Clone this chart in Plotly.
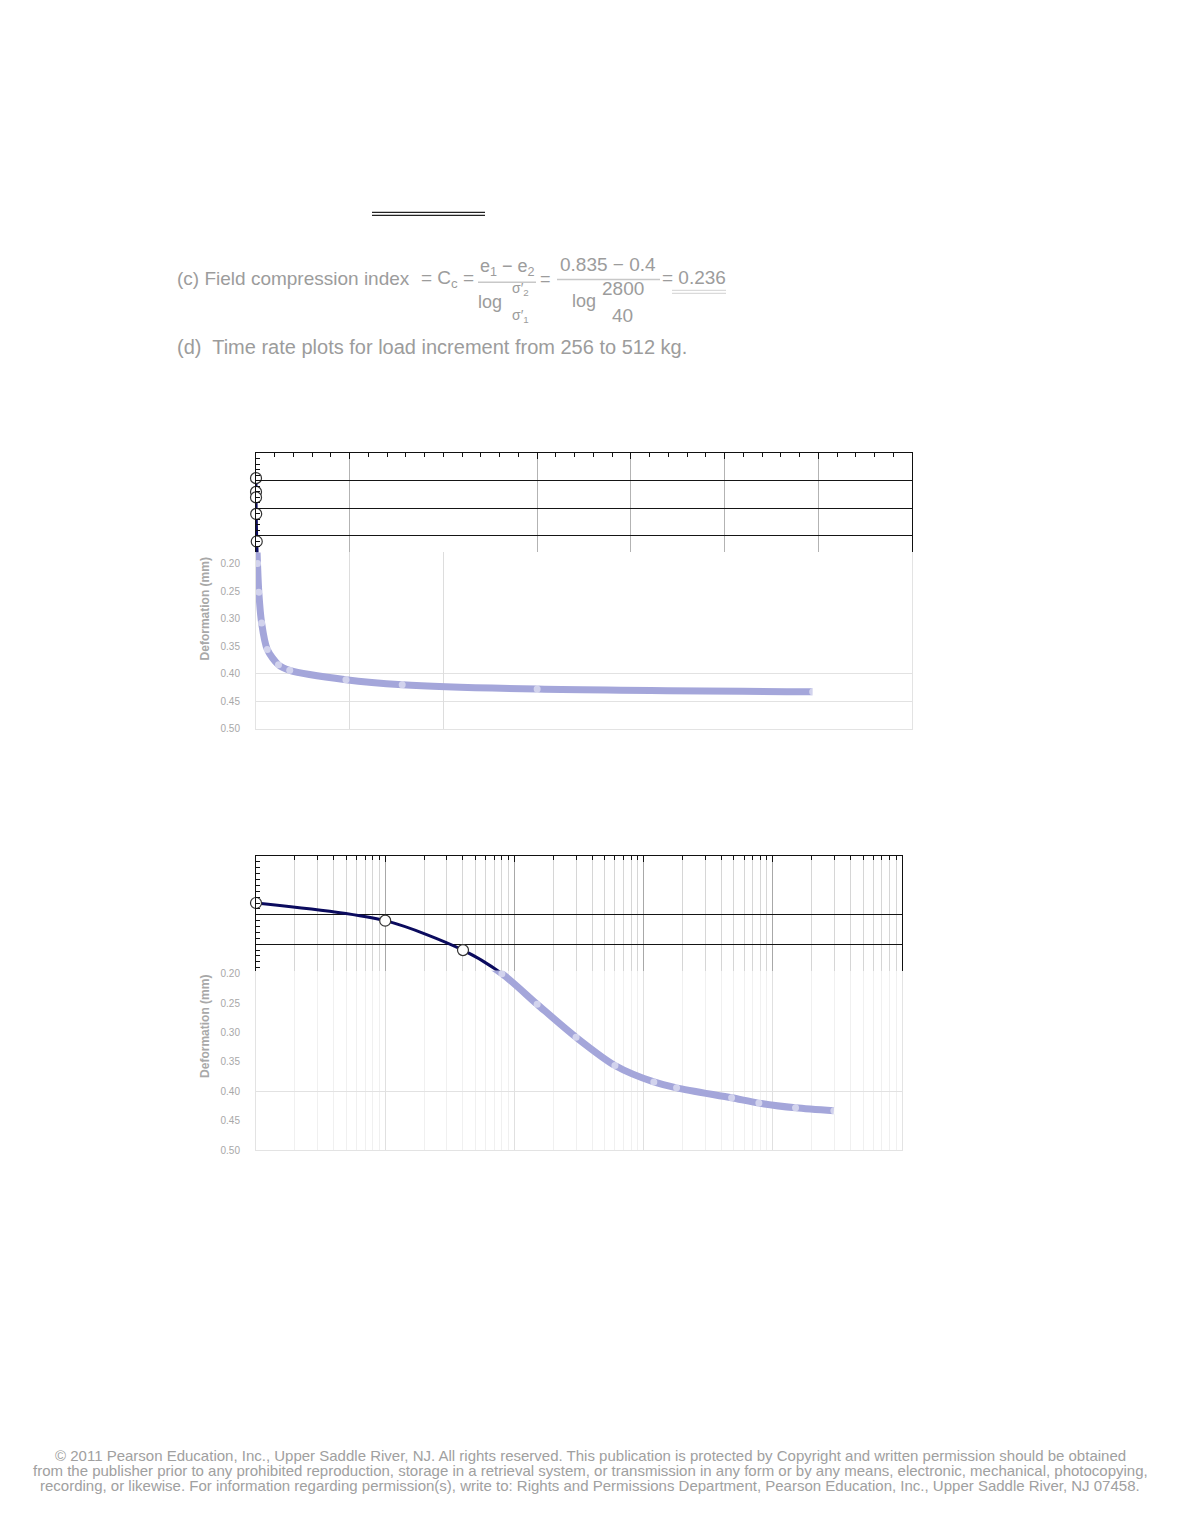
import plotly.graph_objects as go

# ---------------- data ----------------
time_min = [0, 0.05, 0.1, 1, 4, 8, 15, 30, 60, 120, 180, 480, 780, 1500, 2970]
deformation_mm = [0.045, 0.070, 0.080, 0.110, 0.160, 0.200, 0.252, 0.308, 0.356,
                  0.384, 0.394, 0.411, 0.420, 0.428, 0.433]
y_tick_vals = [0.20, 0.25, 0.30, 0.35, 0.40, 0.45, 0.50]
y_tick_text = ["0.20", "0.25", "0.30", "0.35", "0.40", "0.45", "0.50"]
lin_x_range = [0, 3500]
log_x_range = [-1, 4]          # log10 of 0.1 min .. 10000 min
y_max = 0.5
split_1 = 0.18                  # boundary between sharp and faded parts, chart 1
split_2 = 0.195                 # same for chart 2

# ---------------- page geometry ----------------
M = 8
FW, FH = 1164, 1511


def px(X):
    return (X - M) / FW


def py(Y):
    return 1 - (Y - M) / FH


C1 = dict(l=256, r=912, t=453, b=730)
C2 = dict(l=256, r=902, t=858, b=1154)
ys1 = C1["t"] + split_1 / y_max * (C1["b"] - C1["t"])
ys2 = C2["t"] + split_2 / y_max * (C2["b"] - C2["t"])

NAVY = "#0b0b5e"
FADE_LINE = "#a4a6da"
GREY_TXT = "#9c9c9c"
FONT = "Liberation Sans, Arial, sans-serif"

fig = go.Figure()

# chart 1 (linear time)
up1 = [(t, d) for t, d in zip(time_min, deformation_mm) if d <= split_1]
lo1 = [(t, d) for t, d in zip(time_min, deformation_mm) if d > split_1]
fig.add_trace(go.Scatter(x=time_min, y=deformation_mm, mode="lines", xaxis="x2", yaxis="y2",
                         line=dict(color=FADE_LINE, width=7, shape="spline", smoothing=0.8),
                         hoverinfo="skip"))
fig.add_trace(go.Scatter(x=[p[0] for p in lo1], y=[p[1] for p in lo1], mode="markers",
                         xaxis="x2", yaxis="y2",
                         marker=dict(size=7, color="rgba(255,255,255,0.5)", line=dict(width=0)),
                         hoverinfo="skip"))
fig.add_trace(go.Scatter(x=time_min, y=deformation_mm, mode="lines", xaxis="x", yaxis="y",
                         line=dict(color=NAVY, width=3, shape="spline", smoothing=0.8),
                         hoverinfo="skip"))
fig.add_trace(go.Scatter(x=[p[0] for p in up1], y=[p[1] for p in up1], mode="markers",
                         xaxis="x", yaxis="y", cliponaxis=False,
                         marker=dict(size=11, color="white", line=dict(width=1.2, color="#333")),
                         hoverinfo="skip"))

# chart 2 (log time)
t2 = [t for t in time_min if t >= 0.1]
d2 = [d for t, d in zip(time_min, deformation_mm) if t >= 0.1]
up2 = [(t, d) for t, d in zip(t2, d2) if d <= split_2]
lo2 = [(t, d) for t, d in zip(t2, d2) if d > split_2]
fig.add_trace(go.Scatter(x=t2, y=d2, mode="lines", xaxis="x4", yaxis="y4",
                         line=dict(color=FADE_LINE, width=7, shape="spline", smoothing=0.8),
                         hoverinfo="skip"))
fig.add_trace(go.Scatter(x=[p[0] for p in lo2], y=[p[1] for p in lo2], mode="markers",
                         xaxis="x4", yaxis="y4",
                         marker=dict(size=7, color="rgba(255,255,255,0.5)", line=dict(width=0)),
                         hoverinfo="skip"))
fig.add_trace(go.Scatter(x=t2, y=d2, mode="lines", xaxis="x3", yaxis="y3",
                         line=dict(color=NAVY, width=3, shape="spline", smoothing=0.8),
                         hoverinfo="skip"))
fig.add_trace(go.Scatter(x=[p[0] for p in up2], y=[p[1] for p in up2], mode="markers",
                         xaxis="x3", yaxis="y3", cliponaxis=False,
                         marker=dict(size=11, color="white", line=dict(width=1.2, color="#333")),
                         hoverinfo="skip"))

sharp_line = dict(showline=True, linecolor="#111", linewidth=1, zeroline=False,
                  showticklabels=False, tickcolor="#111")
faded_line = dict(showline=True, linecolor="#e3e3e3", linewidth=1, zeroline=False, ticks="")

fig.update_layout(
    width=FW, height=FH, margin=dict(l=0, r=0, t=0, b=0),
    paper_bgcolor="white", plot_bgcolor="white", showlegend=False,
    font=dict(family=FONT),
    # chart 1 sharp part
    xaxis=dict(domain=[px(C1["l"]), px(C1["r"])], range=lin_x_range, anchor="y", side="top",
               ticks="inside", ticklen=6, tickvals=[500, 1500, 2000, 2500, 3000],
               showgrid=True, gridcolor="#b3b3b3",
               minor=dict(ticks="inside", ticklen=4, dtick=100, tick0=0, tickcolor="#111",
                          showgrid=False), **sharp_line),
    yaxis=dict(domain=[py(ys1), py(C1["t"])], range=[split_1, 0], anchor="x", mirror=True,
               ticks="inside", ticklen=6, tickvals=[0.05, 0.10, 0.15],
               showgrid=True, gridcolor="#151515",
               minor=dict(ticks="inside", ticklen=4, dtick=0.01, tick0=0, tickcolor="#111",
                          showgrid=False), **sharp_line),
    # chart 1 faded part
    xaxis2=dict(domain=[px(C1["l"]), px(C1["r"])], range=lin_x_range, anchor="y2",
                tickvals=[500, 1000], showgrid=True, gridcolor="#dddddd",
                showticklabels=False, **faded_line),
    yaxis2=dict(domain=[py(C1["b"]), py(ys1)], range=[y_max, split_1], anchor="x2", mirror=True,
                tickvals=y_tick_vals, ticktext=y_tick_text, showgrid=False,
                tickfont=dict(size=10, color="#a8a8a8"), ticklabelstandoff=13,
                minor=dict(tickvals=[0.40, 0.45], showgrid=True, gridcolor="#e2e2e2", ticks=""),
                **faded_line),
    # chart 2 sharp part
    xaxis3=dict(type="log", domain=[px(C2["l"]), px(C2["r"])], range=log_x_range, anchor="y3",
                side="top", ticks="inside", ticklen=6, dtick=1,
                showgrid=True, gridcolor="#a8a8a8",
                minor=dict(ticks="inside", ticklen=4, dtick="D1", tickcolor="#111",
                           showgrid=True, gridcolor="#d6d6d6"), **sharp_line),
    yaxis3=dict(domain=[py(ys2), py(C2["t"])], range=[split_2, 0], anchor="x3", mirror=True,
                ticks="inside", ticklen=6, tickvals=[0.10, 0.15],
                showgrid=True, gridcolor="#151515",
                minor=dict(ticks="inside", ticklen=4, dtick=0.01, tick0=0, tickcolor="#111",
                           showgrid=False), **sharp_line),
    # chart 2 faded part
    xaxis4=dict(type="log", domain=[px(C2["l"]), px(C2["r"])], range=log_x_range, anchor="y4",
                dtick=1, showgrid=True, gridcolor="#e0e0e0", showticklabels=False,
                minor=dict(dtick="D1", showgrid=True, gridcolor="#f0f0f0", ticks=""),
                **faded_line),
    yaxis4=dict(domain=[py(C2["b"]), py(ys2)], range=[y_max, split_2], anchor="x4", mirror=True,
                tickvals=y_tick_vals, ticktext=y_tick_text, showgrid=False,
                tickfont=dict(size=10, color="#a8a8a8"), ticklabelstandoff=13,
                minor=dict(tickvals=[0.40], showgrid=True, gridcolor="#e2e2e2", ticks=""),
                **faded_line),
)

ann = []


def text(X, Y, s, size=19, color=GREY_TXT, anchor="left", angle=0):
    ann.append(dict(x=px(X), y=py(Y), xref="paper", yref="paper", text=s, showarrow=False,
                    xanchor=anchor, yanchor="middle", textangle=angle,
                    font=dict(size=size, color=color, family=FONT)))


# formula line (c)
text(175, 277, "(c) Field compression index")
text(447, 278, "= C<sub>c</sub> =", anchor="center")
text(507, 266, "e<sub>1</sub> − e<sub>2</sub>", size=18, anchor="center")
text(490, 301, "log", size=18, anchor="center")
text(520, 288, "σ′<sub>2</sub>", size=14, anchor="center")
text(520, 315, "σ′<sub>1</sub>", size=14, anchor="center")
text(545, 278, "=", size=18, anchor="center")
text(608, 263, "0.835 − 0.4", size=19, anchor="center")
text(584, 300, "log", size=18, anchor="center")
text(623, 287, "2800", size=19, anchor="center")
text(622, 314, "40", size=19, anchor="center")
text(660, 276, "= 0.236", size=19)
# line (d)
text(175, 346, "(d)  Time rate plots for load increment from 256 to 512 kg.", size=20)
# axis titles
text(205, 610, "<b>Deformation (mm)</b>", size=12, color="#a8a8a8", anchor="center", angle=-90)
text(205, 1030, "<b>Deformation (mm)</b>", size=12, color="#a8a8a8", anchor="center", angle=-90)
# footer
foot = [
    "© 2011 Pearson Education, Inc., Upper Saddle River, NJ. All rights reserved. This publication is protected by Copyright and written permission should be obtained",
    "from the publisher prior to any prohibited reproduction, storage in a retrieval system, or transmission in any form or by any means, electronic, mechanical, photocopying,",
    "recording, or likewise. For information regarding permission(s), write to: Rights and Permissions Department, Pearson Education, Inc., Upper Saddle River, NJ 07458.",
]
for i, s in enumerate(foot):
    text(590, 1461 + 15 * i, s, size=15, color="#a0a0a0", anchor="center")

fig.update_layout(annotations=ann)

shapes = []


def hline(X0, X1, Y, color="#222", w=1.2):
    shapes.append(dict(type="line", xref="paper", yref="paper", x0=px(X0), x1=px(X1),
                       y0=py(Y), y1=py(Y), line=dict(color=color, width=w)))


hline(372, 485, 210.5)
hline(372, 485, 213.5)
hline(478, 536, 281, color="#c8c8c8", w=1.5)
hline(557, 660, 278, color="#c8c8c8", w=1.5)
hline(672, 726, 289, color="#dadada", w=1.2)
hline(672, 726, 292, color="#dadada", w=1.2)
fig.update_layout(shapes=shapes)

fig.write_html("out.html")
